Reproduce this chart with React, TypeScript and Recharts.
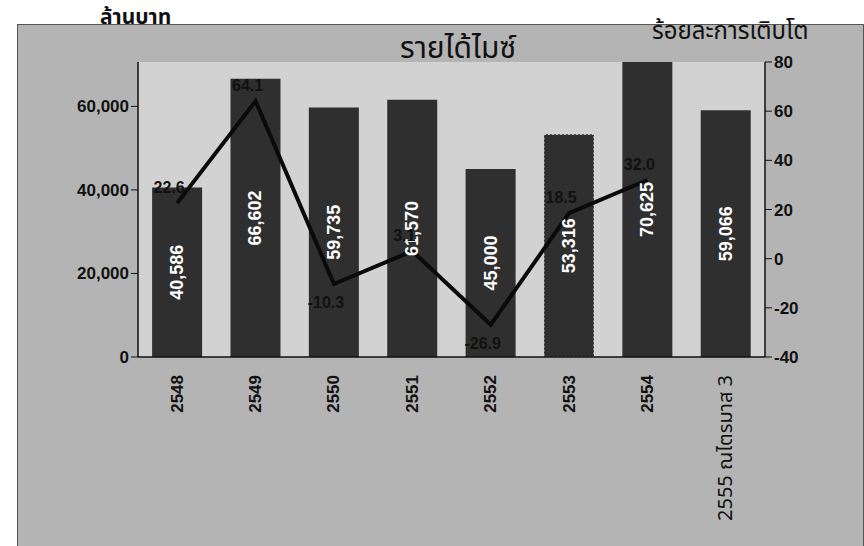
import { Bar, ComposedChart, Line, XAxis, YAxis, CartesianGrid, LabelList, Cell } from "recharts";

const years = ["2548", "2549", "2550", "2551", "2552", "2553", "2554", "2555 ณไตรมาส 3"];
const revenue = [40586, 66602, 59735, 61570, 45000, 53316, 70625, 59066];
const growth: (number | null)[] = [22.6, 64.1, -10.3, 3.1, -26.9, 18.5, 32.0, null];
const leftTicks = [0, 20000, 40000, 60000];
const rightTicks = [-40, -20, 0, 20, 40, 60, 80];

const data = years.map((year, i) => ({ year, revenue: revenue[i], growth: growth[i] }));

const font = "'Liberation Sans', Arial, 'Noto Sans Thai', sans-serif";
const thaiFont = "'Noto Sans Thai', 'Noto Sans', 'Liberation Sans', sans-serif";

const BarValue = (props: any) => {
  const { x, y, width, height, value } = props;
  const cx = x + width / 2;
  const cy = y + height / 2;
  return (
    <text
      x={cx}
      y={cy}
      transform={`rotate(-90, ${cx}, ${cy})`}
      textAnchor="middle"
      dominantBaseline="central"
      fill="#ffffff"
      fontSize={18}
      fontWeight="bold"
      fontFamily={font}
    >
      {Number(value).toLocaleString("en-US")}
    </text>
  );
};

const GrowthValue = (props: any) => {
  const { x, y, value } = props;
  if (value === null || value === undefined) return null;
  const below = value < 0;
  return (
    <text
      x={x - 8}
      y={below ? y + 24 : y - 10}
      textAnchor="middle"
      fill="#111111"
      fontSize={16}
      fontWeight="bold"
      fontFamily={font}
    >
      {Number(value).toFixed(1)}
    </text>
  );
};

const YearTick = (props: any) => {
  const { x, y, payload } = props;
  const thai = payload.value.length > 4;
  return (
    <text
      x={x}
      y={y + 10}
      transform={`rotate(-90, ${x}, ${y + 10})`}
      textAnchor="end"
      dominantBaseline="central"
      fill="#111111"
      fontSize={thai ? 20 : 17}
      fontWeight={thai ? "normal" : "bold"}
      fontFamily={thai ? thaiFont : font}
    >
      {payload.value}
    </text>
  );
};

export default function App() {
  return (
    <div style={{ position: "absolute", left: 0, top: 0, width: 864, height: 546, background: "#ffffff", overflow: "hidden" }}>
      <div style={{ position: "absolute", left: 17, top: 24, width: 845, height: 530, background: "#b4b4b4", border: "1px solid #555" }} />
      <div style={{ position: "absolute", left: 0, top: 0 }}>
        <ComposedChart
          width={864}
          height={546}
          data={data}
          margin={{ top: 62, right: 39, bottom: 9, left: 58 }}
          barCategoryGap="18%"
        >
          <CartesianGrid horizontal={false} vertical={false} fill="#d2d2d2" yAxisId="left" />
          <XAxis
            dataKey="year"
            xAxisId="cat"
            height={180}
            axisLine={{ stroke: "#111", strokeWidth: 1.5 }}
            tickLine={false}
            tick={<YearTick />}
            interval={0}
          />
          <YAxis
            yAxisId="left"
            width={80}
            domain={[0, 70000]}
            ticks={leftTicks}
            tickFormatter={(v: number) => v.toLocaleString("en-US")}
            axisLine={{ stroke: "#111", strokeWidth: 1.5 }}
            tickLine={{ stroke: "#111" }}
            tickSize={7}
            tick={{ fill: "#111", fontSize: 17, fontWeight: "bold", fontFamily: font }}
          />
          <YAxis
            yAxisId="right"
            orientation="right"
            width={60}
            domain={[-40, 80]}
            ticks={rightTicks}
            axisLine={{ stroke: "#111", strokeWidth: 1.5 }}
            tickLine={{ stroke: "#111" }}
            tickSize={7}
            tick={{ fill: "#111", fontSize: 17, fontWeight: "bold", fontFamily: font }}
          />
          <Bar dataKey="revenue" xAxisId="cat" yAxisId="left" fill="#2f2f2f" isAnimationActive={false}>
            {data.map((d, i) => (
              <Cell
                key={d.year}
                fill="#2f2f2f"
                stroke={i === 5 ? "#e0e0e0" : "none"}
                strokeDasharray={i === 5 ? "2 2" : undefined}
              />
            ))}
            <LabelList dataKey="revenue" content={<BarValue />} />
          </Bar>
          <Line
            dataKey="growth"
            xAxisId="cat"
            yAxisId="right"
            stroke="#0a0a0a"
            strokeWidth={4}
            dot={false}
            connectNulls={false}
            isAnimationActive={false}
          >
            <LabelList dataKey="growth" content={<GrowthValue />} />
          </Line>
        </ComposedChart>
      </div>
      <div style={{ position: "absolute", left: 100, top: 0, zIndex: 2, fontFamily: thaiFont, fontSize: 21, fontWeight: "bold", color: "#111", lineHeight: "36px" }}>ล้านบาท</div>
      <div style={{ position: "absolute", left: 400, top: 26, zIndex: 2, fontFamily: thaiFont, fontSize: 30, color: "#111" }}>รายได้ไมซ์</div>
      <div style={{ position: "absolute", left: 652, top: 14, zIndex: 2, fontFamily: thaiFont, fontSize: 24, color: "#111" }}>ร้อยละการเติบโต</div>
    </div>
  );
}
